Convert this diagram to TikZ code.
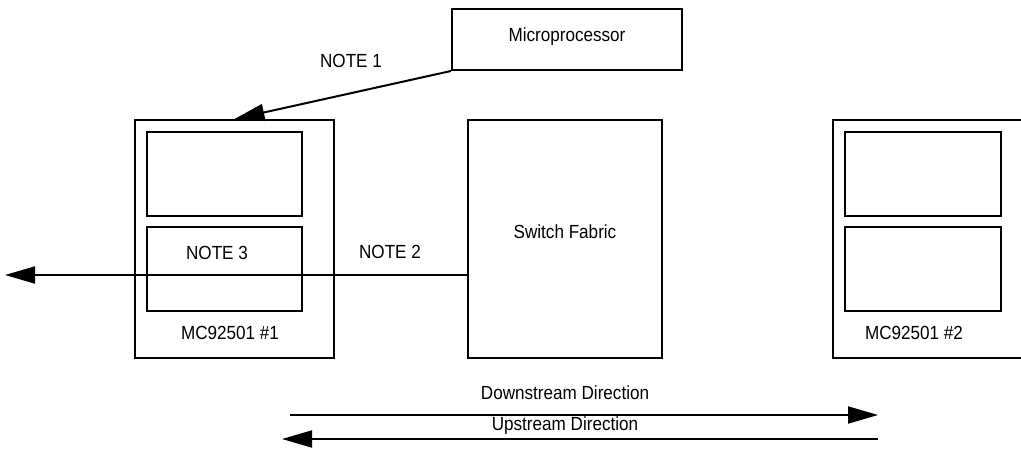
\documentclass[tikz,border=0pt]{standalone}
\usepackage{fontspec}
\setmainfont{Liberation Sans}[FakeStretch=0.9]
\usetikzlibrary{arrows.meta}

\begin{document}
\begin{tikzpicture}
[x=0.5pt,y=-0.5pt,
  boxdecorate/.style={draw,line width=1pt,inner sep=0pt},
  linedecorate/.style={line width=1pt},
  arrowdecorate/.style={line width=1pt,-{Triangle[length=15pt,width=8.5pt]}},
  labeldecorate/.style={inner sep=0pt,font=\fontsize{9.5}{11}\selectfont}]
\path[use as bounding box,clip] (0,0) rectangle (1021,466);
%% boxes
\foreach \nodename/\x/\y/\w/\h in {micro/567/39.5/230/61,
    mcone/234.5/239/199/238, mconetop/224.5/174/155/84, mconebot/224.5/269/155/84,
    fabric/565/239/194/238,
    mctwo/933/239/200/238, mctwotop/923/174/156/84, mctwobot/923/269/156/84} {
  \node (\nodename) at (\x,\y) [boxdecorate,minimum width=\w*0.5pt,minimum height=\h*0.5pt] {};
}
%% texts
\foreach \nodename/\x/\y/\txt in {microtext/567/37/Microprocessor,
    noteone/351/61/NOTE 1, notetwo/390/252/NOTE 2, notethree/217/253/NOTE 3,
    mconetext/230/333/MC92501 \#1, mctwotext/914/333/MC92501 \#2,
    fabrictext/565/232/Switch Fabric,
    downtext/565/393/Downstream Direction, uptext/565/426/Upstream Direction} {
  \node (\nodename) at (\x,\y) [labeldecorate] {\txt};
}
%% arrows
\coordinate (leftend) at (5,275);
\coordinate (dsstart) at (290,415);
\coordinate (dsend) at (878,415);
\coordinate (usstart) at (878,439);
\coordinate (usend) at (282,439);
\draw[arrowdecorate] (micro.south west) -- (mcone.north);
\draw[arrowdecorate] (fabric.west |- leftend) -- (leftend);
\draw[arrowdecorate] (dsstart) -- (dsend);
\draw[arrowdecorate] (usstart) -- (usend);
\end{tikzpicture}
\end{document}
